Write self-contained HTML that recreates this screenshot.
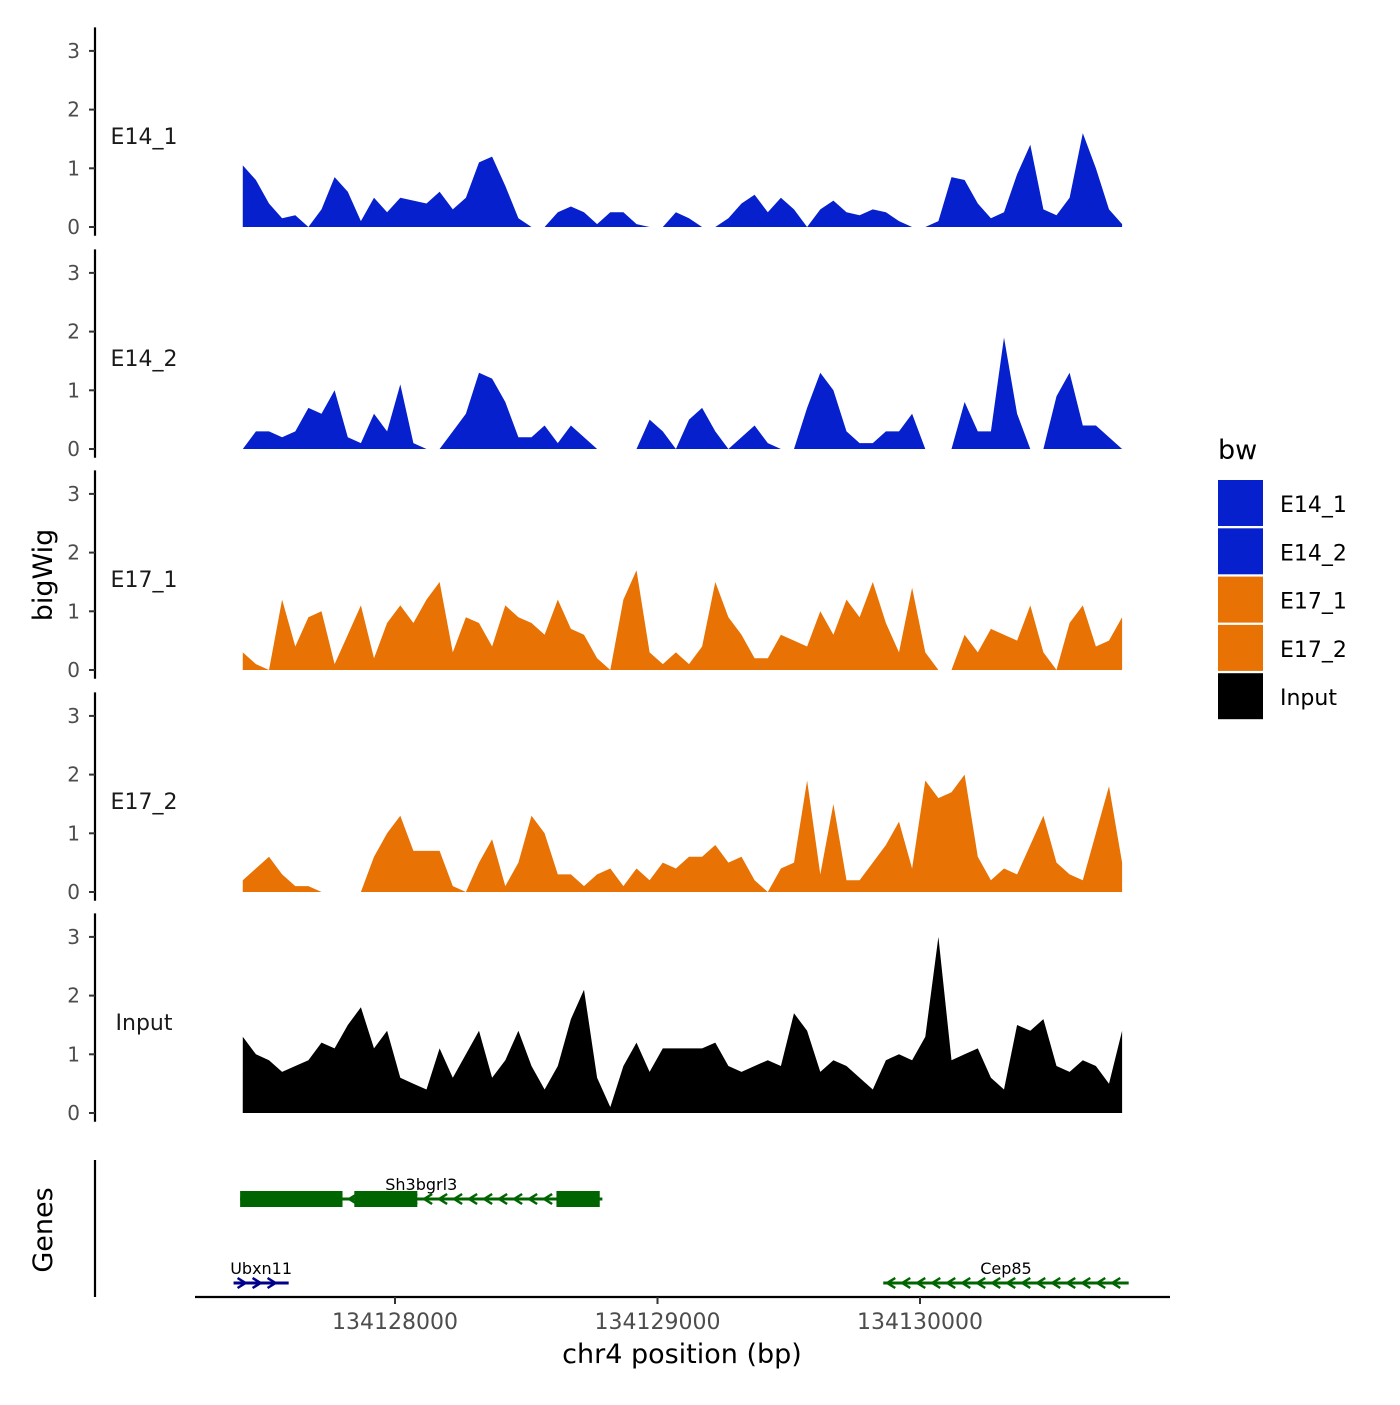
<!DOCTYPE html>
<html><head><meta charset="utf-8"><style>
body{margin:0;background:#fff;}
svg{font-family:"DejaVu Sans","Liberation Sans",sans-serif;}
</style></head><body>
<svg id="chart" width="1400" height="1400" viewBox="0 0 1400 1400"></svg>
<script>
const bpStart = 134127420, bpStep = 50;
const trackNames = ["E14_1","E14_2","E17_1","E17_2","Input"];
const trackColors = ["#0520CC","#0520CC","#E87203","#E87203","#000000"];
const e14_1 = [1.05,0.8,0.4,0.15,0.2,0,0.3,0.85,0.6,0.1,0.5,0.25,0.5,0.45,0.4,0.6,0.3,0.5,1.1,1.2,0.7,0.15,0,0,0.25,0.35,0.25,0.05,0.25,0.25,0.05,0,0,0.25,0.15,0,0,0.15,0.4,0.55,0.25,0.5,0.3,0,0.3,0.45,0.25,0.2,0.3,0.25,0.1,0,0,0.1,0.85,0.8,0.4,0.15,0.25,0.9,1.4,0.3,0.2,0.5,1.6,1.0,0.3,0.05];
const e14_2 = [0,0.3,0.3,0.2,0.3,0.7,0.6,1.0,0.2,0.1,0.6,0.3,1.1,0.1,0,0,0.3,0.6,1.3,1.2,0.8,0.2,0.2,0.4,0.1,0.4,0.2,0,0,0,0,0.5,0.3,0,0.5,0.7,0.3,0,0.2,0.4,0.1,0,0,0.7,1.3,1.0,0.3,0.1,0.1,0.3,0.3,0.6,0,0,0,0.8,0.3,0.3,1.9,0.6,0,0,0.9,1.3,0.4,0.4,0.2,0];
const e17_1 = [0.3,0.1,0,1.2,0.4,0.9,1.0,0.1,0.6,1.1,0.2,0.8,1.1,0.8,1.2,1.5,0.3,0.9,0.8,0.4,1.1,0.9,0.8,0.6,1.2,0.7,0.6,0.2,0,1.2,1.7,0.3,0.1,0.3,0.1,0.4,1.5,0.9,0.6,0.2,0.2,0.6,0.5,0.4,1.0,0.6,1.2,0.9,1.5,0.8,0.3,1.4,0.3,0,0,0.6,0.3,0.7,0.6,0.5,1.1,0.3,0,0.8,1.1,0.4,0.5,0.9];
const e17_2 = [0.2,0.4,0.6,0.3,0.1,0.1,0,0,0,0,0.6,1.0,1.3,0.7,0.7,0.7,0.1,0,0.5,0.9,0.1,0.5,1.3,1.0,0.3,0.3,0.1,0.3,0.4,0.1,0.4,0.2,0.5,0.4,0.6,0.6,0.8,0.5,0.6,0.2,0,0.4,0.5,1.9,0.3,1.5,0.2,0.2,0.5,0.8,1.2,0.4,1.9,1.6,1.7,2.0,0.6,0.2,0.4,0.3,0.8,1.3,0.5,0.3,0.2,1.0,1.8,0.5];
const input = [1.3,1.0,0.9,0.7,0.8,0.9,1.2,1.1,1.5,1.8,1.1,1.4,0.6,0.5,0.4,1.1,0.6,1.0,1.4,0.6,0.9,1.4,0.8,0.4,0.8,1.6,2.1,0.6,0.1,0.8,1.2,0.7,1.1,1.1,1.1,1.1,1.2,0.8,0.7,0.8,0.9,0.8,1.7,1.4,0.7,0.9,0.8,0.6,0.4,0.9,1.0,0.9,1.3,3.0,0.9,1.0,1.1,0.6,0.4,1.5,1.4,1.6,0.8,0.7,0.9,0.8,0.5,1.4];
const yTicks = [0,1,2,3];
const xTicks = [134128000,134129000,134130000];
const geneNames = ["Sh3bgrl3","Ubxn11","Cep85"];
const geneStart = [134127410,134127385,134129860];
const geneEnd = [134128790,134127595,134130795];
const geneStrand = [-1,1,-1];
const geneRow = [0,1,1];
const exonGene = [0,0,0];
const exonStart = [134127410,134127845,134128615];
const exonEnd = [134127800,134128085,134128780];

const series=[e14_1,e14_2,e17_1,e17_2,input];
const NS="http://www.w3.org/2000/svg";
const svg=document.getElementById('chart');
function el(t,a,p){const e=document.createElementNS(NS,t);for(const k in a)e.setAttribute(k,a[k]);(p||svg).appendChild(e);return e;}
const xScale=bp=>395+(bp-134128000)*0.2625;
const panelZero=[227,449,670,892,1113];
const yScale=(p,v)=>panelZero[p]-v*58.7;

series.forEach((vals,p)=>{
  const g=el('g',{});
  
  
  let d='M'+xScale(bpStart)+','+yScale(p,0);
  vals.forEach((v,i)=>{d+=' L'+xScale(bpStart+i*bpStep).toFixed(1)+','+yScale(p,v).toFixed(1);});
  d+=' L'+xScale(bpStart+(vals.length-1)*bpStep).toFixed(1)+','+yScale(p,0)+' Z';
  const a=el('path',{d:d,fill:trackColors[p]},g);
  
  
  const ax=el('line',{x1:95,x2:95,y1:yScale(p,3.4),y2:yScale(p,-0.15),stroke:'#000','stroke-width':2.2},g);
  
  
  yTicks.forEach(t=>{
    el('line',{x1:89,x2:95,y1:yScale(p,t),y2:yScale(p,t),stroke:'#333','stroke-width':2},g);
    const tx=el('text',{x:80,y:yScale(p,t)+7,'text-anchor':'end','font-size':20,fill:'#4d4d4d'},g);
    tx.textContent=t;
    
    
  });
  const lb=el('text',{x:144,y:yScale(p,1.55)+8,'text-anchor':'middle','font-size':22,fill:'#1a1a1a'},g);
  lb.textContent=trackNames[p];
  
  
});

// genes panel
const ga=el('line',{x1:95,x2:95,y1:1160,y2:1297,stroke:'#000','stroke-width':2.2});


const xa=el('line',{x1:195,x2:1170,y1:1297,y2:1297,stroke:'#000','stroke-width':2.2});


xTicks.forEach(t=>{
  el('line',{x1:xScale(t),x2:xScale(t),y1:1297,y2:1304,stroke:'#333','stroke-width':2});
  const tx=el('text',{x:xScale(t),y:1329,'text-anchor':'middle','font-size':22,fill:'#4d4d4d'});
  tx.textContent=t;
  
  
});
const rowY=[1199,1283];
geneNames.forEach((n,i)=>{
  const col=geneStrand[i]>0?'#00008B':'#006400';
  const y=rowY[geneRow[i]];
  const g=el('g',{});
  
  
  const x1=xScale(geneStart[i]),x2=xScale(geneEnd[i]);
  el('line',{x1:x1,x2:x2,y1:y,y2:y,stroke:col,'stroke-width':3},g);
  for(let x=x1+8;x<x2-4;x+=15){
    const s=geneStrand[i];
    el('polyline',{points:`${x-4*s},${y-5} ${x+4*s},${y} ${x-4*s},${y+5}`,fill:'none',stroke:col,'stroke-width':2.5},g);
  }
  const tx=el('text',{x:(geneRow[i]===0?xScale(134128100):(x1+x2)/2),y:y-9,'text-anchor':'middle','font-size':16,fill:'#000'},g);
  tx.textContent=n;
  
  
});
exonStart.forEach((s,i)=>{
  const y=rowY[geneRow[exonGene[i]]];
  const r=el('rect',{x:xScale(s),y:y-8,width:xScale(exonEnd[i])-xScale(s),height:16,fill:'#006400'});
  
  
});
// titles
let t=el('text',{x:682,y:1363,'text-anchor':'middle','font-size':27,fill:'#000'});
t.textContent='chr4 position (bp)';
t=el('text',{x:0,y:0,'text-anchor':'middle','font-size':27,fill:'#000',transform:'translate(52,575) rotate(-90)'});
t.textContent='bigWig';
t=el('text',{x:0,y:0,'text-anchor':'middle','font-size':27,fill:'#000',transform:'translate(52,1230) rotate(-90)'});
t.textContent='Genes';
// legend
t=el('text',{x:1218,y:459,'font-size':27,fill:'#000'});
t.textContent='bw';
trackNames.forEach((n,i)=>{
  const g=el('g',{});
  
  
  el('rect',{x:1218,y:480+i*48.3,width:45,height:46,fill:trackColors[i]},g);
  const lt=el('text',{x:1280,y:512+i*48.3,'font-size':22,fill:'#000'},g);
  lt.textContent=n;
});
</script>
</body></html>
